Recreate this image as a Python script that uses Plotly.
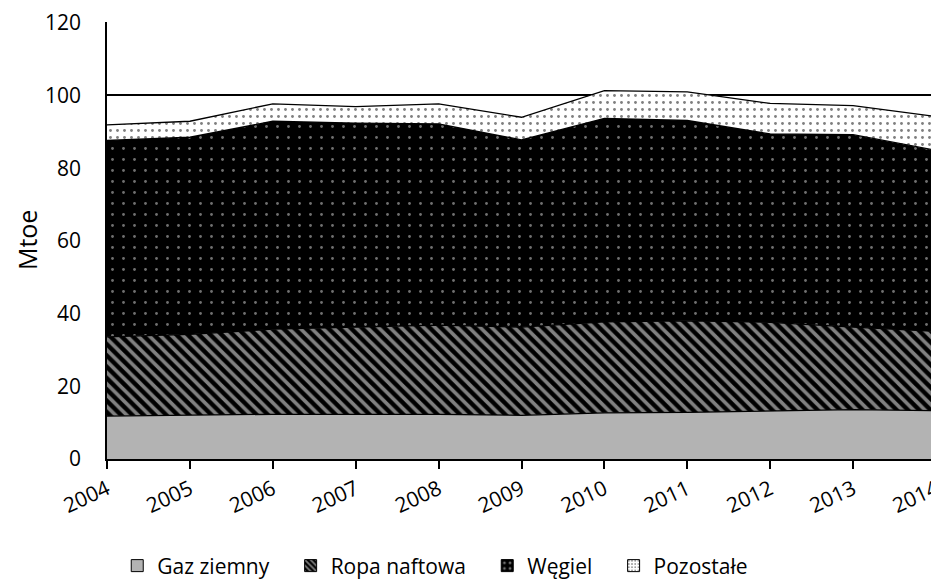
import plotly.graph_objects as go

years = [2004, 2005, 2006, 2007, 2008, 2009, 2010, 2011, 2012, 2013, 2014]
gas = [11.8, 12.1, 12.3, 12.3, 12.3, 12.0, 12.7, 12.8, 13.3, 13.6, 13.3]
oil = [21.8, 22.2, 23.4, 23.9, 24.5, 24.3, 25.0, 25.2, 24.3, 22.7, 21.8]
coal = [54.0, 54.2, 57.2, 56.2, 55.4, 51.5, 56.0, 55.1, 51.8, 52.9, 49.8]
other = [4.3, 4.4, 4.8, 4.5, 5.5, 6.2, 7.6, 7.9, 8.4, 8.0, 9.3]
names = ["Gaz ziemny", "Ropa naftowa", "Węgiel", "Pozostałe"]

FONT = "Open Sans"

styles = [
    dict(fill="#b3b3b3", pattern=None),
    dict(fill="black", pattern=dict(shape="\\", bgcolor="black", fgcolor="white", size=8, solidity=0.45)),
    dict(fill="black", pattern=dict(shape=".", bgcolor="black", fgcolor="#e0e0e0", size=11, solidity=0.05)),
    dict(fill="white", pattern=dict(shape=".", bgcolor="white", fgcolor="black", size=7, solidity=0.13)),
]
series = [gas, oil, coal, other]

fig = go.Figure()
for name, vals, st in zip(names, series, styles):
    kw = {}
    if st["pattern"]:
        kw["fillpattern"] = st["pattern"]
    fig.add_trace(go.Scatter(
        x=years, y=vals, name=name, stackgroup="s", mode="lines",
        line=dict(color="black", width=1.3), fillcolor=st["fill"],
        showlegend=False, hoverinfo="x+y", **kw))

# legend entries (empty bars carrying the same fills)
NBSP = "\u00a0"
for i, (name, st) in enumerate(zip(names, styles)):
    mk = dict(color=st["fill"], line=dict(color="black", width=1))
    if st["pattern"]:
        p = dict(st["pattern"])
        p["size"] = max(4, int(p["size"] * 0.7))
        if p["shape"] == ".":
            p["solidity"] = 0.2
        mk["pattern"] = p
    label = name + (NBSP * 3 if i < len(names) - 1 else "")
    fig.add_trace(go.Bar(x=[None], y=[None], name=label, marker=mk, showlegend=True))

# page body has an 8px margin, so the figure is shifted by 8px right/down
fig.update_layout(
    width=939, height=580,
    margin=dict(l=99, r=11, t=14, b=129),
    paper_bgcolor="white", plot_bgcolor="white",
    font=dict(family=FONT, size=21, color="black"),
    showlegend=True,
    legend=dict(orientation="h", xref="container", x=0.455, xanchor="center",
                yref="container", y=0.038, yanchor="middle",
                font=dict(family=FONT, size=21), tracegroupgap=0,
                traceorder="normal", itemwidth=30),
    xaxis=dict(range=[2004, 2014.0001], tickmode="array", tickvals=years,
               ticktext=[str(y) for y in years], tickangle=-25,
               ticks="outside", ticklen=8, tickwidth=1.5, tickcolor="black",
               showline=True, linecolor="black", linewidth=2,
               showgrid=False, zeroline=False, tickfont=dict(size=21),
               automargin=False),
    yaxis=dict(range=[0, 120.2], tickmode="array", tickvals=[0, 20, 40, 60, 80, 100, 120],
               showgrid=True, gridcolor="black", gridwidth=1.5,
               showline=True, linecolor="black", linewidth=1.5,
               ticks="", zeroline=False, tickfont=dict(size=21),
               ticklabelstandoff=20, automargin=False),
    annotations=[dict(text="Mtoe", xref="paper", yref="paper", x=-0.097, y=0.5,
                      xanchor="center", yanchor="middle", textangle=-90,
                      showarrow=False, font=dict(family=FONT, size=25, color="black"))],
)

fig.write_html("out.html")
